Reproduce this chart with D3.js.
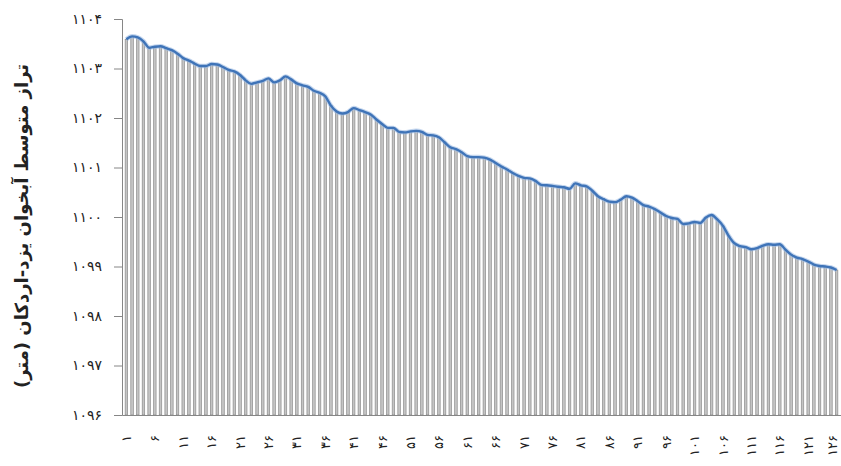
<!DOCTYPE html>
<html>
<head>
<meta charset="utf-8">
<script src="https://cdn.jsdelivr.net/npm/d3@7"></script>
<style>
  body { margin: 0; background: #fff; }
  text { font-family: "DejaVu Sans", sans-serif; }
</style>
</head>
<body>
<script>
// months 1..126
var months = d3.range(1, 127);
var levels = [
  1103.59, 1103.65, 1103.63, 1103.55, 1103.42, 1103.44, 1103.45, 1103.41, 1103.37, 1103.30,
  1103.21, 1103.16, 1103.10, 1103.05, 1103.05, 1103.09, 1103.08, 1103.03, 1102.97, 1102.94,
  1102.87, 1102.76, 1102.69, 1102.72, 1102.75, 1102.80, 1102.72, 1102.76, 1102.84, 1102.78,
  1102.70, 1102.66, 1102.63, 1102.55, 1102.51, 1102.44, 1102.25, 1102.13, 1102.09, 1102.12,
  1102.20, 1102.16, 1102.12, 1102.07, 1101.97, 1101.88, 1101.80, 1101.80, 1101.72, 1101.71,
  1101.73, 1101.74, 1101.72, 1101.66, 1101.65, 1101.61, 1101.51, 1101.41, 1101.37, 1101.31,
  1101.23, 1101.21, 1101.21, 1101.20, 1101.16, 1101.09, 1101.02, 1100.96, 1100.89, 1100.83,
  1100.79, 1100.78, 1100.73, 1100.65, 1100.64, 1100.63, 1100.61, 1100.60, 1100.57, 1100.68,
  1100.64, 1100.62, 1100.53, 1100.42, 1100.36, 1100.31, 1100.30, 1100.35, 1100.42, 1100.39,
  1100.32, 1100.24, 1100.21, 1100.16, 1100.09, 1100.02, 1099.98, 1099.96, 1099.86, 1099.87,
  1099.90, 1099.88, 1099.99, 1100.04, 1099.95, 1099.82, 1099.62, 1099.47, 1099.41, 1099.39,
  1099.35, 1099.37, 1099.42, 1099.45, 1099.44, 1099.45, 1099.34, 1099.24, 1099.18, 1099.15,
  1099.10, 1099.04, 1099.01, 1099.00, 1098.98, 1098.93
];
var yTicks = [1096, 1097, 1098, 1099, 1100, 1101, 1102, 1103, 1104];
var xTicks = months.filter(function(m){ return (m - 1) % 5 == 0; });
var yTitle = "تراز متوسط آبخوان یزد-اردکان (متر)";

var svg_width = 841, svg_height = 466;
var plotLeft = 122, plotRight = 841, plotTop = 19, plotBottom = 415;

function fa(n){
  return String(n).replace(/\d/g, function(c){ return "۰۱۲۳۴۵۶۷۸۹"[c]; });
}

var svg = d3.select('body')
  .append('svg')
  .attr('width', svg_width)
  .attr('height', svg_height);

var xScale = d3.scaleBand()
  .domain(months)
  .range([plotLeft, plotRight])
  .padding(0.55);

var yScale = d3.scaleLinear()
  .domain([1096, 1104])
  .range([plotBottom, plotTop]);

// bars
svg.selectAll("rect.bar")
  .data(levels)
  .enter()
  .append("rect")
  .attr("class", "bar")
  .attr("x", function(d, i){ return xScale(months[i]); })
  .attr("y", function(d){ return yScale(d); })
  .attr("width", xScale.bandwidth())
  .attr("height", function(d){ return plotBottom - yScale(d); })
  .attr("fill", "#c4c4c4")
  .attr("stroke", "#808080")
  .attr("stroke-width", 0.6);

// line on top
var line = d3.line()
  .x(function(d, i){ return xScale(months[i]) + xScale.bandwidth() / 2; })
  .y(function(d){ return yScale(d); })
  .curve(d3.curveMonotoneX);

svg.append("path")
  .datum(levels)
  .attr("d", line)
  .attr("fill", "none")
  .attr("stroke", "#9dbbe3")
  .attr("stroke-width", 4.5)
  .attr("opacity", 0.6);

svg.append("path")
  .datum(levels)
  .attr("d", line)
  .attr("fill", "none")
  .attr("stroke", "#3f74b8")
  .attr("stroke-width", 2.4);

// y axis
var y_axis = d3.axisLeft(yScale)
  .tickValues(yTicks)
  .tickSize(8)
  .tickPadding(12)
  .tickFormat(fa);

var gy = svg.append("g")
  .attr("transform", "translate(" + plotLeft + ",0)")
  .call(y_axis);
gy.select(".domain").attr("stroke", "#868686");
gy.selectAll(".tick line").attr("stroke", "#868686");
gy.selectAll("text")
  .attr("font-size", 14)
  .attr("fill", "#222");

// x axis
var x_axis = d3.axisBottom(xScale)
  .tickValues(xTicks)
  .tickSize(0)
  .tickFormat(fa);

var gx = svg.append("g")
  .attr("transform", "translate(0," + plotBottom + ")")
  .call(x_axis);
gx.select(".domain").attr("stroke", "#868686");
gx.selectAll("text")
  .attr("font-size", 13)
  .attr("fill", "#222")
  .attr("text-anchor", "end")
  .attr("transform", function(d){
    // last label sits at the right edge, nudge it in a little
    var nudge = d == months[months.length - 1] ? -4 : 0;
    return "translate(" + nudge + ",20) rotate(-90)";
  })
  .attr("x", 0)
  .attr("y", 0)
  .attr("dy", "0.35em");

// y title
svg.append("text")
  .attr("transform", "translate(22,226) rotate(-90)")
  .attr("text-anchor", "middle")
  .attr("dy", "0.35em")
  .attr("font-size", 18)
  .attr("font-weight", "bold")
  .attr("fill", "#222")
  .text(yTitle);
</script>
</body>
</html>
